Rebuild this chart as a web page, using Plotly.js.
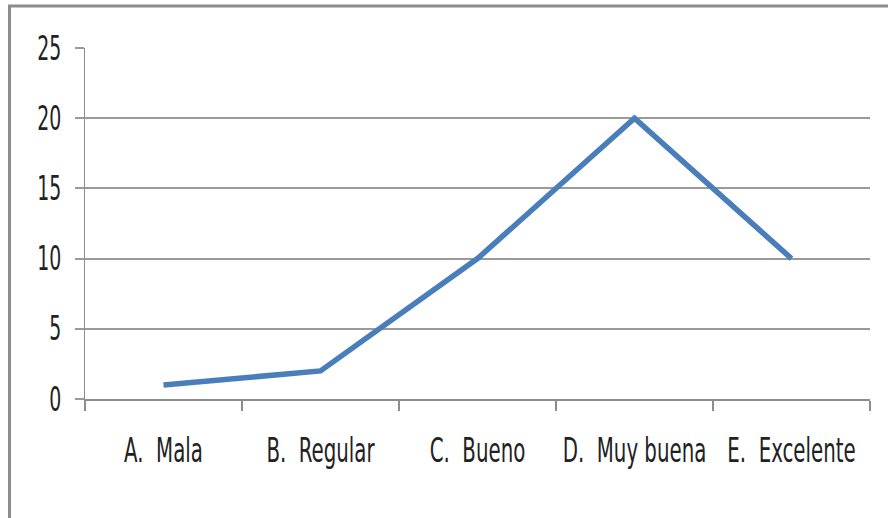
<!DOCTYPE html>
<html>
<head>
<meta charset="utf-8">
<script src="https://cdn.plot.ly/plotly-3.0.1.min.js"></script>
<style>
html,body{margin:0;padding:0;background:#fff;}
#chart{width:888px;height:518px;}
#chart .xtick text, #chart .ytick text{
  font-family: "DejaVu Sans Condensed", "DejaVu Sans", sans-serif !important;
  font-stretch: condensed !important;
}
</style>
</head>
<body>
<div id="chart"></div>
<script>
const categories = ["A.  Mala", "B.  Regular", "C.  Bueno", "D.  Muy buena", "E.  Excelente"];
const values = [1, 2, 10, 20, 10];
const yTicks = [0, 5, 10, 15, 20, 25];

const fontFam = '"DejaVu Sans Condensed", "DejaVu Sans", sans-serif';

const trace = {
  x: categories,
  y: values,
  type: 'scatter',
  mode: 'lines',
  line: {color: '#4A7EBB', width: 5.5},
  hoverinfo: 'skip'
};

const layout = {
  width: 888,
  height: 518,
  margin: {l: 85, r: 18, t: 48, b: 119},
  paper_bgcolor: '#ffffff',
  plot_bgcolor: '#ffffff',
  showlegend: false,
  font: {family: fontFam, color: '#222222', size: 21},
  xaxis: {
    type: 'category',
    range: [-0.5, 4.5],
    showgrid: false,
    showline: true,
    linecolor: '#8c8c8c',
    linewidth: 2,
    ticks: 'outside',
    tickson: 'boundaries',
    ticklen: 10,
    tickwidth: 1.5,
    tickcolor: '#8c8c8c',
    tickangle: 0,
    ticklabelstandoff: 30,
    tickfont: {family: fontFam, size: 22, color: '#222222'},
    zeroline: false,
    fixedrange: true
  },
  yaxis: {
    range: [0, 25],
    tickvals: yTicks,
    ticktext: yTicks.map(String),
    showgrid: true,
    gridcolor: '#9a9a9a',
    gridwidth: 2,
    showline: true,
    linecolor: '#8c8c8c',
    linewidth: 1.5,
    ticks: 'outside',
    ticklen: 9,
    tickwidth: 2,
    tickcolor: '#9a9a9a',
    ticklabelstandoff: 9,
    tickfont: {family: fontFam, size: 21, color: '#222222'},
    zeroline: false,
    fixedrange: true
  },
  shapes: [{
    type: 'rect',
    xref: 'paper', yref: 'paper',
    x0: -0.0962, x1: 1.2,
    y0: -0.6, y1: 1.1197,
    line: {color: '#8c8c8c', width: 3},
    fillcolor: 'rgba(0,0,0,0)',
    layer: 'below'
  }]
};

Plotly.newPlot('chart', [trace], layout, {staticPlot: true, displayModeBar: false}).then(function (gd) {
  // stretch tick labels vertically, like the reference's tall narrow lettering
  function stretch(sel, s) {
    gd.querySelectorAll(sel).forEach(function (t) {
      const b = t.getBBox();
      const cx = b.x + b.width / 2, cy = b.y + b.height / 2;
      const old = t.getAttribute('transform') || '';
      t.setAttribute('transform', old + ' translate(' + cx + ',' + cy + ') scale(1,' + s + ') translate(' + (-cx) + ',' + (-cy) + ')');
    });
  }
  stretch('.xtick text', 1.55);
  stretch('.ytick text', 1.6);
});
</script>
</body>
</html>
